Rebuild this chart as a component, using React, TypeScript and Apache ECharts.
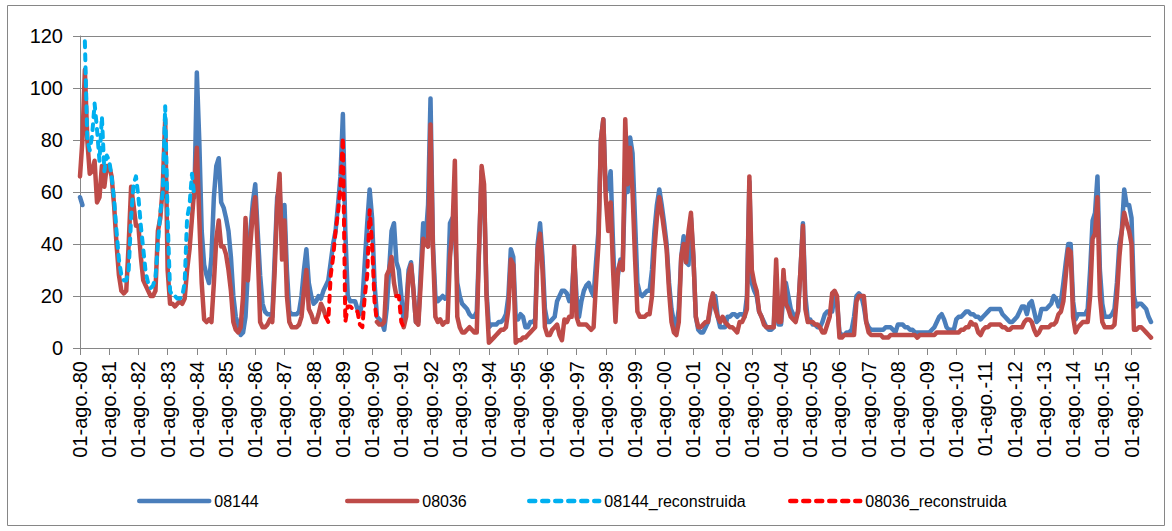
import { useEffect, useRef } from "react";
import * as echarts from "echarts";

const n = null;

// Category axis: monthly, from 01-ago.-80
const monthNames = ["ene.", "feb.", "mar.", "abr.", "may.", "jun.", "jul.", "ago.", "sep.", "oct.", "nov.", "dic."];
const startYear = 1980;
const startMonth = 7; // agosto
const yTicks = [0, 20, 40, 60, 80, 100, 120];

// 08144 (observed), one row per hydrological year (ago..jul)
const s08144: (number | null)[] = [
  58, 55, n, n, n, n, n, n, n, n, n, n, // 80
  n, n, n, n, n, n, n, n, n, n, n, n, // 81
  n, n, n, n, n, n, n, n, n, n, n, n, // 82
  n, n, n, n, n, n, n, n, n, n, n, 58, // 83
  106, 80, 45, 32, 28, 25, 35, 58, 70, 73, 56, 54, // 84
  50, 45, 35, 20, 12, 9, 5, 6, 12, 30, 45, 56, // 85
  63, 45, 28, 17, 14, 13, 13, 12, 35, 58, 62, 40, // 86
  55, 30, 14, 13, 13, 13, 14, 20, 30, 38, 25, 20, // 87
  17, 18, 20, 19, 22, 24, 26, 33, 40, 45, 55, 66, // 88
  90, 45, 20, 18, 18, 18, 15, 13, 18, 33, 48, 61, // 89
  50, 25, 12, 11, 10, 7, 15, 30, 45, 48, 33, 30, // 90
  20, 10, 15, 30, 33, 22, 10, 10, 30, 48, 42, 55, // 91
  96, 40, 20, 18, 19, 20, 19, 20, 48, 50, 45, 25, // 92
  20, 17, 16, 15, 13, 12, 12, 14, 40, 68, 60, 22, // 93
  8, 9, 9, 9, 10, 10, 11, 13, 20, 38, 35, 12, // 94
  11, 13, 12, 8, 8, 10, 10, 11, 40, 48, 35, 15, // 95
  10, 10, 11, 12, 18, 20, 22, 22, 21, 18, 20, 35, // 96
  20, 12, 18, 22, 24, 25, 22, 20, 33, 45, 80, 88, // 97
  60, 62, 68, 40, 15, 28, 34, 34, 65, 60, 81, 75, // 98
  50, 25, 21, 20, 21, 22, 22, 30, 45, 55, 61, 55, // 99
  48, 40, 25, 15, 10, 8, 15, 35, 43, 33, 32, 50, // 00
  35, 12, 7, 6, 6, 8, 10, 15, 20, 20, 12, 8, // 01
  8, 8, 12, 12, 13, 13, 12, 13, 13, 12, 20, 64, // 02
  25, 22, 20, 14, 12, 10, 8, 7, 7, 8, 28, 9, // 03
  9, 20, 25, 20, 15, 13, 12, 14, 30, 48, 20, 11, // 04
  11, 9, 9, 8, 8, 10, 13, 14, 14, 14, 20, 18, // 05
  6, 5, 5, 6, 6, 7, 12, 20, 21, 20, 16, 10, // 06
  8, 7, 7, 7, 7, 7, 7, 8, 8, 8, 7, 6, // 07
  9, 9, 9, 8, 8, 7, 7, 6, 6, 6, 6, 6, // 08
  6, 6, 7, 8, 10, 12, 13, 11, 8, 7, 7, 7, // 09
  11, 12, 12, 13, 14, 14, 13, 13, 12, 12, 11, 12, // 10
  13, 14, 15, 15, 15, 15, 15, 13, 12, 11, 10, 10, // 11
  11, 12, 14, 16, 16, 13, 17, 18, 14, 10, 11, 15, // 12
  15, 15, 16, 17, 20, 19, 16, 18, 25, 33, 40, 40, // 13
  18, 11, 13, 13, 13, 13, 15, 30, 49, 52, 66, 30, // 14
  17, 12, 12, 12, 13, 15, 25, 40, 45, 61, 55, 55, // 15
  50, 20, 16, 17, 17, 16, 15, 12, 10, // 16
];

// 08036 (observed)
const s08036: (number | null)[] = [
  66, 80, 107, 80, 67, 68, 72, 56, 58, 70, 62, 70, // 80
  70, 66, 55, 40, 28, 22, 21, 22, 40, 62, 55, 47, // 81
  47, 35, 26, 24, 22, 20, 20, 22, 45, 50, 62, 88, // 82
  30, 17, 17, 16, 17, 18, 17, 19, 30, 38, 50, 62, // 83
  77, 50, 25, 11, 10, 11, 10, 25, 42, 49, 39, 39, // 84
  36, 30, 22, 10, 7, 6, 8, 20, 50, 26, 40, 52, // 85
  58, 38, 10, 8, 8, 9, 11, 10, 30, 55, 67, 34, // 86
  49, 20, 10, 8, 8, 8, 9, 12, 22, 30, 15, 13, // 87
  10, 10, 13, 17, 15, 12, n, n, n, n, n, n, // 88
  n, n, n, n, n, n, n, n, n, n, n, n, // 89
  n, n, 10, 9, 9, 10, 28, 30, 35, 25, 20, n, // 90
  n, 8, 12, 28, 32, 22, 10, 9, 25, 42, 40, 39, // 91
  86, 38, 12, 10, 11, 9, 10, 10, 35, 45, 72, 12, // 92
  8, 6, 6, 7, 8, 7, 6, 6, 40, 70, 63, 20, // 93
  2, 3, 4, 5, 6, 7, 7, 8, 15, 34, 32, 2, // 94
  3, 3, 4, 4, 5, 6, 7, 8, 38, 44, 30, 8, // 95
  5, 5, 7, 8, 9, 5, 3, 11, 10, 12, 12, 39, // 96
  12, 9, 9, 9, 9, 8, 7, 8, 25, 40, 80, 88, // 97
  58, 45, 56, 30, 10, 30, 33, 30, 88, 63, 77, 60, // 98
  35, 14, 12, 12, 12, 13, 13, 20, 38, 50, 58, 52, // 99
  45, 38, 22, 10, 6, 5, 10, 35, 40, 33, 45, 52, // 00
  35, 12, 8, 8, 9, 10, 10, 17, 21, 15, 12, 10, // 01
  12, 10, 9, 8, 8, 7, 6, 10, 10, 12, 15, 66, // 02
  30, 25, 22, 14, 12, 9, 8, 8, 8, 8, 34, 10, // 03
  10, 30, 17, 15, 12, 11, 10, 14, 30, 47, 15, 10, // 04
  10, 10, 9, 9, 8, 6, 6, 9, 12, 21, 22, 20, // 05
  4, 4, 5, 5, 5, 5, 5, 18, 20, 20, 20, 10, // 06
  6, 5, 5, 5, 5, 5, 4, 4, 4, 5, 5, 5, // 07
  5, 5, 5, 5, 5, 5, 5, 5, 4, 5, 5, 5, // 08
  5, 5, 5, 5, 6, 6, 6, 6, 6, 6, 6, 6, // 09
  6, 6, 7, 7, 8, 8, 10, 9, 9, 6, 5, 7, // 10
  8, 8, 9, 9, 9, 9, 9, 8, 8, 7, 7, 8, // 11
  8, 8, 8, 8, 10, 11, 11, 10, 7, 5, 6, 8, // 12
  8, 8, 8, 9, 9, 10, 13, 14, 18, 28, 38, 37, // 13
  12, 6, 8, 9, 10, 10, 10, 20, 42, 44, 58, 20, // 14
  10, 8, 8, 8, 8, 9, 20, 35, 45, 52, 48, 45, // 15
  40, 7, 7, 8, 8, 7, 6, 5, 4, // 16
];

// 08144_reconstruida, starting at 01-oct.-80
const rec08144Start = 2;
const rec08144: (number | null)[] = [
  118, 80, 76, 82, 94, 84, 72, 89, 68, 74, // 80 (oct..jul)
  72, 66, 57, 45, 34, 28, 26, 26, 30, 50, 63, 66, // 81
  58, 47, 38, 29, 25, 23, 24, 27, 40, 52, 60, 93, // 82
  50, 22, 20, 20, 19, 19, 20, 25, 50, 55, 67, 58, // 83
];

// 08036_reconstruida, starting at 01-ene.-89
const rec08036Start = 101;
const rec08036: (number | null)[] = [
  12, 10, 28, 35, 45, 52, 62, // 88 (ene..jul)
  81, 10, 16, 16, 15, 14, 14, 9, 8, 20, 28, 53, // 89
  40, 18, 10, n, n, n, n, n, n, n, 20, 20, // 90
  10, 8, // 91
];

const nPoints = s08144.length;
const categories = Array.from({ length: nPoints }, (_, i) => {
  const m = (startMonth + i) % 12;
  const y = startYear + Math.floor((startMonth + i) / 12);
  return `01-${monthNames[m]}-${String(y % 100).padStart(2, "0")}`;
});

function pad(start: number, vals: (number | null)[]) {
  const out: (number | null)[] = new Array(nPoints).fill(null);
  vals.forEach((v, k) => {
    if (start + k < nPoints) out[start + k] = v;
  });
  return out;
}

const FONT = "'Liberation Sans', Arial, sans-serif";
const GRAY = "#868686";

export default function App() {
  const ref = useRef<HTMLDivElement>(null);
  useEffect(() => {
    if (!ref.current) return;
    const chart = echarts.init(ref.current, undefined, { renderer: "svg" });
    const mkLegend = (name: string, left: number) => ({
      data: [name],
      left,
      top: 493,
      itemWidth: 70,
      itemHeight: 14,
      padding: 0,
      itemStyle: { opacity: 0, borderWidth: 0 },
      lineStyle: { width: 4.5 },
      textStyle: { fontFamily: FONT, fontSize: 16, color: "#000" },
    });
    chart.setOption({
      animation: false,
      backgroundColor: "#fff",
      textStyle: { fontFamily: FONT },
      graphic: [
        {
          type: "rect",
          shape: { x: 7.5, y: 5.5, width: 1157, height: 520 },
          style: { fill: "none", stroke: GRAY, lineWidth: 1 },
          silent: true,
        },
      ],
      grid: { left: 80, top: 36, right: 21, bottom: 183, containLabel: false },
      legend: [
        mkLegend("08144", 137),
        mkLegend("08036", 345),
        mkLegend("08144_reconstruida", 527),
        mkLegend("08036_reconstruida", 788),
      ],
      xAxis: {
        type: "category",
        data: categories,
        boundaryGap: false,
        axisLine: { lineStyle: { color: GRAY, width: 1 } },
        axisTick: { interval: 11, length: 7, lineStyle: { color: GRAY } },
        axisLabel: {
          interval: 11,
          rotate: 90,
          margin: 13,
          fontSize: 20,
          color: "#000",
          fontFamily: FONT,
        },
        splitLine: { show: false },
      },
      yAxis: {
        type: "value",
        min: yTicks[0],
        max: yTicks[yTicks.length - 1],
        interval: 20,
        axisLine: { show: true, lineStyle: { color: GRAY, width: 1 } },
        axisTick: { show: true, length: 7, lineStyle: { color: GRAY } },
        axisLabel: { fontSize: 20, color: "#000", margin: 17, fontFamily: FONT },
        splitLine: { lineStyle: { color: GRAY, width: 1 } },
      },
      series: [
        {
          name: "08144",
          type: "line",
          data: s08144,
          symbol: "none",
          lineStyle: { color: "#4A7EBB", width: 4.5, cap: "round", join: "round" },
          itemStyle: { color: "#4A7EBB" },
        },
        {
          name: "08036",
          type: "line",
          data: s08036,
          symbol: "none",
          lineStyle: { color: "#BE4B48", width: 4.5, cap: "round", join: "round" },
          itemStyle: { color: "#BE4B48" },
        },
        {
          name: "08144_reconstruida",
          type: "line",
          data: pad(rec08144Start, rec08144),
          symbol: "none",
          lineStyle: { color: "#00B0F0", width: 4, type: [6, 7], cap: "round", join: "round" },
          itemStyle: { color: "#00B0F0" },
        },
        {
          name: "08036_reconstruida",
          type: "line",
          data: pad(rec08036Start, rec08036),
          symbol: "none",
          lineStyle: { color: "#FF0000", width: 4, type: [6, 7], cap: "round", join: "round" },
          itemStyle: { color: "#FF0000" },
        },
      ],
    });
    return () => chart.dispose();
  }, []);
  return (
    <div
      ref={ref}
      style={{ position: "absolute", left: 0, top: 0, width: 1172, height: 531 }}
    />
  );
}
